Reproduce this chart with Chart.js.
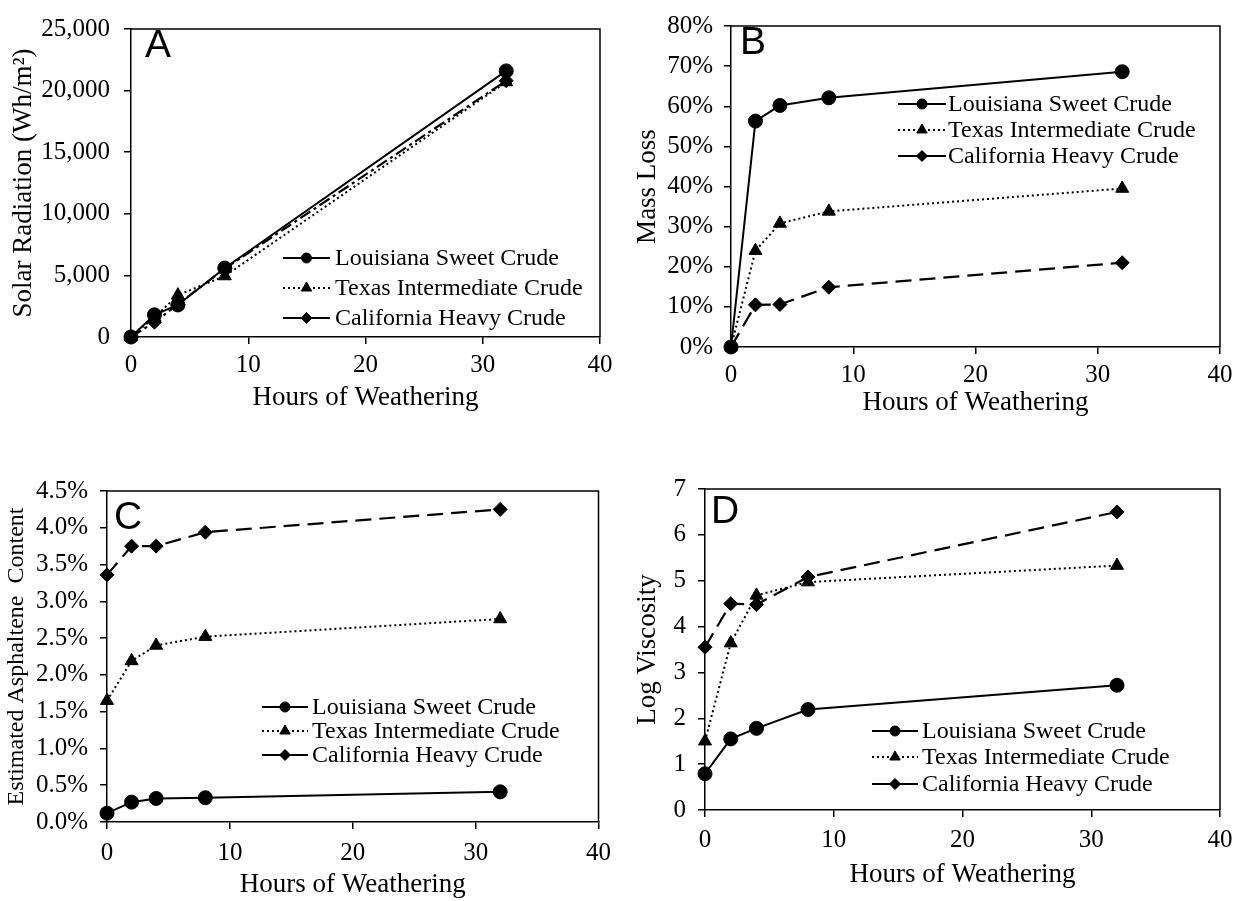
<!DOCTYPE html>
<html>
<head>
<meta charset="utf-8">
<script src="https://cdn.jsdelivr.net/npm/chart.js@4.4.1/dist/chart.umd.min.js"></script>
<style>
  body { margin: 0; background: #fff; width: 1242px; height: 901px; position: relative; overflow: hidden; }
  .panel { position: absolute; }
</style>
</head>
<body>
<div class="panel" style="left:0;top:0;width:620px;height:420px"><canvas id="chartA"></canvas></div>
<div class="panel" style="left:620px;top:0;width:622px;height:420px"><canvas id="chartB"></canvas></div>
<div class="panel" style="left:0;top:440px;width:620px;height:461px"><canvas id="chartC"></canvas></div>
<div class="panel" style="left:620px;top:440px;width:622px;height:461px"><canvas id="chartD"></canvas></div>
<script>
// hours of weathering
const hours = [0, 2, 4, 8, 32];
const seriesNames = ['Louisiana Sweet Crude', 'Texas Intermediate Crude', 'California Heavy Crude'];

// A - solar radiation (Wh/m2)
const solarLouisiana = [0, 1800, 2600, 5600, 21600];
const solarTexas = [0, 1600, 3400, 4950, 20700];
const solarCalifornia = [0, 1200, 2650, 5550, 20800];

// B - mass loss (%)
const massLouisiana = [0, 56.3, 60.2, 62.1, 68.6];
const massTexas = [0, 24.0, 30.8, 33.8, 39.5];
const massCalifornia = [0, 10.5, 10.6, 14.9, 21.0];

// C - estimated asphaltene content (%)
const asphLouisiana = [0.12, 0.27, 0.32, 0.33, 0.41];
const asphTexas = [1.65, 2.19, 2.40, 2.52, 2.76];
const asphCalifornia = [3.36, 3.75, 3.75, 3.94, 4.25];

// D - log viscosity
const viscLouisiana = [0.79, 1.55, 1.78, 2.19, 2.72];
const viscTexas = [1.5, 3.64, 4.68, 4.97, 5.33];
const viscCalifornia = [3.55, 4.5, 4.48, 5.08, 6.5];

// tick labels
const xTickValues = [0, 10, 20, 30, 40];
const yTicksA = [0, 5000, 10000, 15000, 20000, 25000];
const yTicksB = [0, 10, 20, 30, 40, 50, 60, 70, 80];
const yTicksC = [0, 0.5, 1, 1.5, 2, 2.5, 3, 3.5, 4, 4.5];
const yTicksD = [0, 1, 2, 3, 4, 5, 6, 7];

const serif = '"Liberation Serif", "Times New Roman", serif';

function drawMarker(ctx, style, x, y, r) {
    if (Chart.helpers && Chart.helpers.drawPoint) {
        Chart.helpers.drawPoint(ctx, {pointStyle: style, radius: r, rotation: 0, borderWidth: 1}, x, y);
        return;
    }
    ctx.beginPath();
    if (style === 'circle') {
        ctx.arc(x, y, r, 0, Math.PI * 2);
    } else if (style === 'triangle') {
        ctx.moveTo(x, y - r);
        ctx.lineTo(x + r * 0.866, y + r * 0.5);
        ctx.lineTo(x - r * 0.866, y + r * 0.5);
    } else {
        ctx.moveTo(x, y - r); ctx.lineTo(x + r, y); ctx.lineTo(x, y + r); ctx.lineTo(x - r, y);
    }
    ctx.closePath();
    ctx.fill();
    ctx.stroke();
}

// frame, panel letter and the legend inside the plot
const panelDecor = {
    id: 'panelDecor',
    afterDraw(chart, args, opts) {
        const ctx = chart.ctx;
        const a = chart.chartArea;
        ctx.save();
        ctx.strokeStyle = '#000';
        ctx.fillStyle = '#000';
        ctx.lineWidth = 1.5;
        ctx.beginPath();
        ctx.moveTo(a.left, a.top);
        ctx.lineTo(a.right, a.top);
        ctx.lineTo(a.right, a.bottom);
        ctx.stroke();

        ctx.font = '39px "Liberation Sans", Arial, sans-serif';
        ctx.textAlign = 'center';
        ctx.textBaseline = 'alphabetic';
        ctx.fillText(opts.letter, opts.letterX, opts.letterY);

        chart.data.datasets.forEach((ds, i) => {
            const y = opts.rows[i];
            ctx.lineWidth = 2;
            ctx.setLineDash(ds.legendDash);
            ctx.beginPath();
            ctx.moveTo(opts.x1, y);
            ctx.lineTo(opts.x2, y);
            ctx.stroke();
            ctx.setLineDash([]);
            ctx.lineWidth = 1;
            drawMarker(ctx, ds.pointStyle, (opts.x1 + opts.x2) / 2, y, ds.legendRadius);
            ctx.font = '24px ' + serif;
            ctx.textAlign = 'left';
            ctx.textBaseline = 'middle';
            ctx.fillText(ds.label, opts.tx, y + 1);
        });
        ctx.restore();
    }
};

function makeDatasets(louisiana, texas, california, caliDash) {
    const base = {borderColor: '#000', backgroundColor: '#000', pointBorderColor: '#000',
        pointBackgroundColor: '#000', borderWidth: 2, pointBorderWidth: 1, tension: 0, clip: false};
    return [
        Object.assign({}, base, {label: seriesNames[0], data: louisiana.map((v, i) => ({x: hours[i], y: v})),
            pointStyle: 'circle', pointRadius: 7, borderDash: [], legendDash: [], legendRadius: 5}),
        Object.assign({}, base, {label: seriesNames[1], data: texas.map((v, i) => ({x: hours[i], y: v})),
            pointStyle: 'triangle', pointRadius: 7.5, borderDash: [2, 3], legendDash: [2, 3], legendRadius: 6}),
        Object.assign({}, base, {label: seriesNames[2], data: california.map((v, i) => ({x: hours[i], y: v})),
            pointStyle: 'rectRot', pointRadius: 7, borderDash: caliDash, borderWidth: 2.2, legendDash: [], legendRadius: 5.5})
    ];
}

function makeChart(id, p) {
    const canvas = document.getElementById(id);
    const w = canvas.parentNode.clientWidth;
    const h = canvas.parentNode.clientHeight;
    return new Chart(canvas, {
        type: 'line',
        data: {datasets: p.datasets},
        plugins: [panelDecor],
        options: {
            responsive: true,
            maintainAspectRatio: false,
            animation: false,
            layout: {padding: {left: 0, top: p.area.t, right: w - p.area.r, bottom: 0}},
            plugins: {
                legend: {display: false},
                tooltip: {enabled: false},
                panelDecor: p.decor
            },
            scales: {
                x: {
                    type: 'linear',
                    min: 0,
                    max: 40,
                    afterBuildTicks: (scale) => { scale.ticks = xTickValues.map(v => ({value: v})); },
                    afterFit: (scale) => { scale.height = h - p.area.b; },
                    border: {display: true, color: '#000', width: 1.5},
                    grid: {display: true, drawOnChartArea: false, drawTicks: true, tickLength: 7, color: '#000', lineWidth: 1.5},
                    ticks: {color: '#000', font: {family: serif, size: 25}, padding: p.xTickPad, maxRotation: 0},
                    title: {display: true, text: 'Hours of Weathering', color: '#000',
                        font: {family: serif, size: 27}, padding: {top: 0, bottom: p.xTitlePad}}
                },
                y: {
                    type: 'linear',
                    min: p.yTicks[0],
                    max: p.yTicks[p.yTicks.length - 1],
                    afterBuildTicks: (scale) => { scale.ticks = p.yTicks.map(v => ({value: v})); },
                    afterFit: (scale) => { scale.width = p.area.l; },
                    border: {display: true, color: '#000', width: 1.5},
                    grid: {display: true, drawOnChartArea: false, drawTicks: true, tickLength: 7, color: '#000', lineWidth: 1.5},
                    ticks: {color: '#000', font: {family: serif, size: 25}, padding: p.yTickPad, callback: p.yFmt},
                    title: {display: true, text: p.yTitle, color: '#000',
                        font: {family: serif, size: p.yTitleSize}, padding: {top: p.yTitlePad, bottom: 0}}
                }
            }
        }
    });
}

makeChart('chartA', {
    datasets: makeDatasets(solarLouisiana, solarTexas, solarCalifornia, [12, 4, 3, 4]),
    area: {l: 131, t: 16, r: 600, b: 337},
    yTicks: yTicksA,
    yFmt: (v) => v.toLocaleString('en-US'),
    yTitle: 'Solar Radiation (Wh/m\u00B2)', yTitleSize: 27, yTitlePad: 8,
    xTickPad: 6, yTickPad: 14, xTitlePad: 6,
    decor: {letter: 'A', letterX: 158, letterY: 57, x1: 283, x2: 330, tx: 335, rows: [258, 288, 318]}
});

makeChart('chartB', {
    datasets: makeDatasets(massLouisiana, massTexas, massCalifornia, [16, 8]),
    area: {l: 111, t: 16, r: 600, b: 347},
    yTicks: yTicksB,
    yFmt: (v) => v + '%',
    yTitle: 'Mass Loss', yTitleSize: 27, yTitlePad: 12,
    xTickPad: 6, yTickPad: 11, xTitlePad: 1,
    decor: {letter: 'B', letterX: 133, letterY: 54, x1: 278, x2: 326, tx: 328, rows: [104, 130, 156]}
});

makeChart('chartC', {
    datasets: makeDatasets(asphLouisiana, asphTexas, asphCalifornia, [16, 8]),
    area: {l: 107, t: 51, r: 600, b: 382},
    yTicks: yTicksC,
    yFmt: (v) => v.toFixed(1) + '%',
    yTitle: 'Estimated Asphaltene  Content', yTitleSize: 24, yTitlePad: 2,
    xTickPad: 9, yTickPad: 12, xTitlePad: 0,
    decor: {letter: 'C', letterX: 128, letterY: 89, x1: 262, x2: 308, tx: 312, rows: [267, 291, 315]}
});

makeChart('chartD', {
    datasets: makeDatasets(viscLouisiana, viscTexas, viscCalifornia, [16, 8]),
    area: {l: 85, t: 49, r: 600, b: 370},
    yTicks: yTicksD,
    yFmt: (v) => String(v),
    yTitle: 'Log Viscosity', yTitleSize: 27, yTitlePad: 12,
    xTickPad: 8, yTickPad: 12, xTitlePad: 10,
    decor: {letter: 'D', letterX: 105, letterY: 83, x1: 252, x2: 298, tx: 302, rows: [291, 317, 344]}
});
</script>
</body>
</html>
